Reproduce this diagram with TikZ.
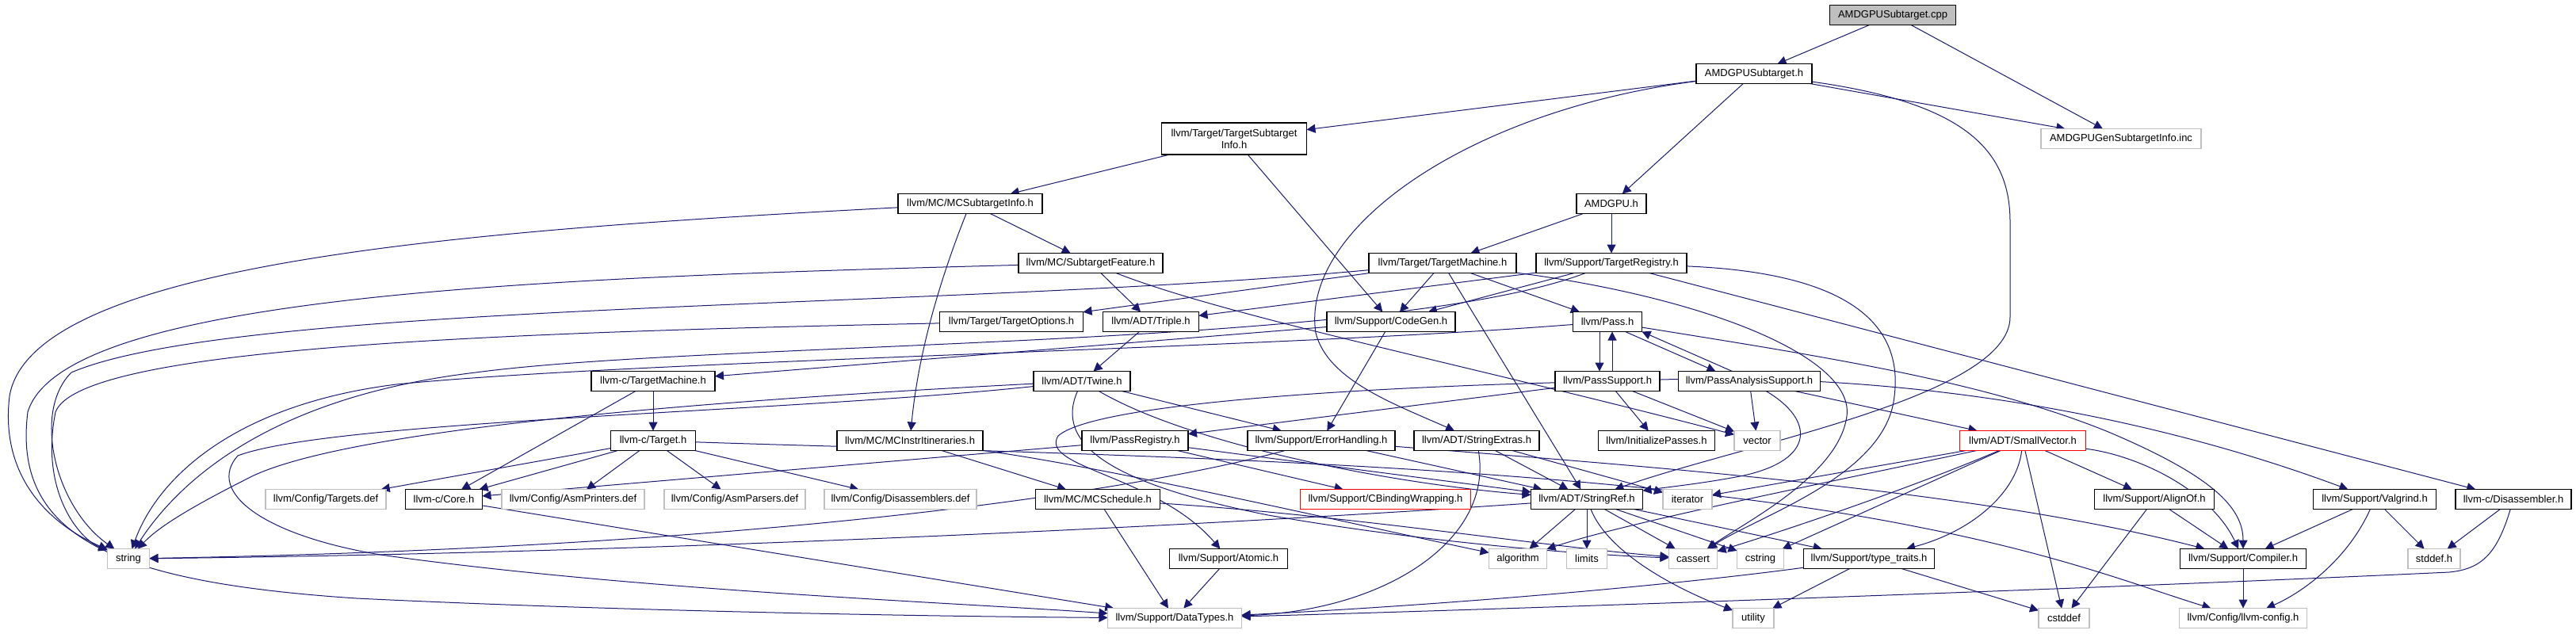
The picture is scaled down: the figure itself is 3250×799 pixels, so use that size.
\documentclass[tikz,border=0pt]{standalone}
\usepackage{fontspec}
\setmainfont{Liberation Sans}
\usetikzlibrary{arrows.meta,backgrounds}
\definecolor{edgeblue}{HTML}{191970}
\definecolor{gray75}{HTML}{BFBFBF}
\tikzset{
  nb/.style={draw=black, line width=0.65pt, fill=white, minimum height=12.5pt, inner sep=0pt, outer sep=0pt, font=\fontsize{6.5pt}{7.5pt}\selectfont, align=center},
  ext/.style={nb, draw=gray75},
  trunc/.style={nb, draw=red},
  rootnode/.style={nb, fill=gray75},
  dep/.style={draw=edgeblue, line width=0.5pt, -{Triangle[length=5.5pt,width=5.5pt]}},
}
\begin{document}
\begin{tikzpicture}[x=0.5pt,y=-0.5pt]
\useasboundingbox (0,0) rectangle (3250,799);
% row 0-2
\node[rootnode, minimum width=79.5pt] (cpp) at (2388,19) {AMDGPUSubtarget.cpp};
\node[nb, minimum width=73pt] (subh) at (2213,93) {AMDGPUSubtarget.h};
\node[ext, minimum width=101pt] (geninc) at (2676,175) {AMDGPUGenSubtargetInfo.inc};
\node[nb, minimum width=91.5pt, minimum height=20pt] (tsi) at (1557,175) {llvm/Target/TargetSubtarget\\Info.h};
% row 3
\node[nb, minimum width=91pt] (mcsti) at (1224,257) {llvm/MC/MCSubtargetInfo.h};
\node[nb, minimum width=44pt] (amdgpu) at (2033,257) {AMDGPU.h};
% row 4
\node[nb, minimum width=91pt] (subfeat) at (1376,332) {llvm/MC/SubtargetFeature.h};
\node[nb, minimum width=93pt] (tm) at (1820,332) {llvm/Target/TargetMachine.h};
\node[nb, minimum width=95pt] (treg) at (2033,332) {llvm/Support/TargetRegistry.h};
% row 5
\node[nb, minimum width=90.5pt] (topts) at (1276,406) {llvm/Target/TargetOptions.h};
\node[nb, minimum width=60.5pt] (triple) at (1452,406) {llvm/ADT/Triple.h};
\node[nb, minimum width=81pt] (codegen) at (1755,406) {llvm/Support/CodeGen.h};
\node[nb, minimum width=43.5pt] (pass) at (2028,406) {llvm/Pass.h};
% row 6
\node[nb, minimum width=78pt] (lctm) at (824,481) {llvm-c/TargetMachine.h};
\node[nb, minimum width=61pt] (twine) at (1365,481) {llvm/ADT/Twine.h};
\node[nb, minimum width=66pt] (passsup) at (2028,481) {llvm/PassSupport.h};
\node[nb, minimum width=89.5pt] (passana) at (2207,481) {llvm/PassAnalysisSupport.h};
% row 7
\node[nb, minimum width=53.5pt] (lctarget) at (824,556) {llvm-c/Target.h};
\node[nb, minimum width=92pt] (mcii) at (1148,556) {llvm/MC/MCInstrItineraries.h};
\node[nb, minimum width=67pt] (passreg) at (1432,556) {llvm/PassRegistry.h};
\node[nb, minimum width=93pt] (errh) at (1667,556) {llvm/Support/ErrorHandling.h};
\node[nb, minimum width=79pt] (strext) at (1863,556) {llvm/ADT/StringExtras.h};
\node[nb, minimum width=73.5pt] (initp) at (2090,556) {llvm/InitializePasses.h};
\node[ext, minimum width=29pt] (vector) at (2217,556) {vector};
\node[trunc, minimum width=79.5pt] (smallvec) at (2552,556) {llvm/ADT/SmallVector.h};
% row 8
\node[ext, minimum width=76pt] (targetsdef) at (411,630) {llvm/Config/Targets.def};
\node[nb, minimum width=48.5pt] (core) at (560,630) {llvm-c/Core.h};
\node[ext, minimum width=90pt] (asmprinters) at (723,630) {llvm/Config/AsmPrinters.def};
\node[ext, minimum width=89pt] (asmparsers) at (927,630) {llvm/Config/AsmParsers.def};
\node[ext, minimum width=96pt] (disasmdef) at (1136,630) {llvm/Config/Disassemblers.def};
\node[nb, minimum width=78.5pt] (mcsched) at (1385,630) {llvm/MC/MCSchedule.h};
\node[trunc, minimum width=107.5pt] (cbinding) at (1748,630) {llvm/Support/CBindingWrapping.h};
\node[nb, minimum width=70.5pt] (strref) at (2002,630) {llvm/ADT/StringRef.h};
\node[ext, minimum width=31pt] (iterator) at (2129,630) {iterator};
\node[nb, minimum width=75.5pt] (alignof) at (2718,630) {llvm/Support/AlignOf.h};
\node[nb, minimum width=77.5pt] (valgrind) at (2996,630) {llvm/Support/Valgrind.h};
\node[nb, minimum width=73pt] (lcdis) at (3171,630) {llvm-c/Disassembler.h};
% row 9
\node[ext, minimum width=26.5pt] (string) at (162,705) {string};
\node[nb, minimum width=74.5pt] (atomic) at (1550,705) {llvm/Support/Atomic.h};
\node[ext, minimum width=36.5pt] (algorithm) at (1915,705) {algorithm};
\node[ext, minimum width=25.5pt] (limits) at (2002,705) {limits};
\node[ext, minimum width=30.5pt] (cassert) at (2136,705) {cassert};
\node[ext, minimum width=29.5pt] (cstring) at (2221,705) {cstring};
\node[nb, minimum width=82.5pt] (typetraits) at (2358,705) {llvm/Support/type\_traits.h};
\node[nb, minimum width=79.5pt] (compiler) at (2830,705) {llvm/Support/Compiler.h};
\node[ext, minimum width=33pt] (stddef) at (3071,705) {stddef.h};
% row 10
\node[ext, minimum width=84.5pt] (datatypes) at (1482,780) {llvm/Support/DataTypes.h};
\node[ext, minimum width=26pt] (utility) at (2212,780) {utility};
\node[ext, minimum width=32pt] (cstddef) at (2604,780) {cstddef};
\node[ext, minimum width=80.5pt] (llvmconfig) at (2830,780) {llvm/Config/llvm-config.h};

\begin{pgfonlayer}{background}
\draw[dep] (cpp) -- (subh);
\draw[dep] (cpp) -- (geninc);
\draw[dep] (subh) -- (tsi);
\draw[dep] (subh) -- (amdgpu);
\draw[dep] (subh) -- (geninc);
\draw[dep] (subh) .. controls (1850,140) and (1640,290) .. (1660,420) .. controls (1675,480) and (1760,510) .. (strext);
\draw[dep] (subh) .. controls (2480,130) and (2536,190) .. (2536,280) -- (2536,400) .. controls (2536,500) and (2200,560) .. (strref);
\draw[dep] (tsi) -- (mcsti);
\draw[dep] (tsi) -- (codegen);
\draw[dep] (mcsti) -- (subfeat);
\draw[dep] (mcsti) .. controls (1195,330) and (1160,430) .. (mcii);
\draw[dep] (mcsti) .. controls (600,290) and (40,330) .. (12,500) .. controls (0,600) and (60,660) .. (string);
\draw[dep] (subfeat) -- (triple);
\draw[dep] (subfeat) .. controls (700,350) and (80,370) .. (35,520) .. controls (15,680) and (150,735) .. (450,755) .. controls (800,772) and (1200,778) .. (datatypes);
\draw[dep] (subfeat) .. controls (1550,400) and (1850,460) .. (vector);
\draw[dep] (amdgpu) -- (tm);
\draw[dep] (amdgpu) -- (treg);
\draw[dep] (tm) -- (topts);
\draw[dep] (tm) .. controls (1200,390) and (300,380) .. (90,470) .. controls (40,520) and (70,640) .. (string);
\draw[dep] (tm) -- (codegen);
\draw[dep] (tm) -- (pass);
\draw[dep] (tm) -- (strref);
\draw[dep] (tm) .. controls (2150,375) and (2340,450) .. (2330,525) .. controls (2320,600) and (2200,660) .. (cassert);
\draw[dep] (treg) -- (lcdis);
\draw[dep] (treg) -- (triple);
\draw[dep] (treg) -- (codegen);
\draw[dep] (treg) .. controls (2350,345) and (2400,420) .. (2390,500) .. controls (2380,600) and (2220,650) .. (cassert);
\draw[dep] (treg) .. controls (1750,440) and (900,430) .. (600,470) .. controls (350,500) and (230,600) .. (string);
\draw[dep] (topts) .. controls (600,420) and (100,440) .. (70,520) .. controls (50,620) and (100,680) .. (string);
\draw[dep] (triple) -- (twine);
\draw[dep] (codegen) -- (lctm);
\draw[dep] (codegen) -- (errh);
\draw[dep] ([xshift=-5pt]pass.south) -- ([xshift=-5pt]passsup.north);
\draw[dep] ([xshift=3pt]passsup.north) -- ([xshift=3pt]pass.south);
\draw[dep] ([xshift=-10.5pt]pass.south east) -- ([xshift=23.5pt]passana.north west);
\draw[dep] ([xshift=34pt]passana.north west) -- (pass.south east);
\draw[dep] (pass) .. controls (1600,440) and (800,455) .. (500,485) .. controls (300,510) and (200,600) .. (string);
\draw[dep] (pass) .. controls (2300,450) and (2500,480) .. (2660,545) .. controls (2790,600) and (2830,640) .. (compiler);
\draw[dep] (passsup) -- (initp);
\draw[dep] (passsup) -- (passreg);
\draw[dep] (passsup) .. controls (1700,490) and (1380,510) .. (1335,550) .. controls (1310,590) and (1460,600) .. (atomic);
\draw[dep] (passsup) .. controls (2400,470) and (2700,520) .. (valgrind);
\draw[dep] (passsup) -- (vector);
\draw[dep] (passana) -- (smallvec);
\draw[dep] (passana) .. controls (2290,530) and (2290,580) .. (2200,600) .. controls (2150,610) and (2100,615) .. (strref);
\draw[dep] (passana) -- (vector);
\draw[dep] (lctm) -- (core);
\draw[dep] (lctm) -- (lctarget);
\draw[dep] (twine) .. controls (1500,560) and (1750,610) .. (strref);
\draw[dep] (twine) .. controls (1000,520) and (420,530) .. (300,575) .. controls (260,620) and (330,675) .. (480,700) .. controls (800,745) and (1200,760) .. (datatypes);
\draw[dep] (twine) -- (errh);
\draw[dep] (twine) .. controls (1330,560) and (1400,610) .. (1600,650) .. controls (1800,685) and (2000,700) .. (cassert);
\draw[dep] (twine) .. controls (900,505) and (450,540) .. (320,600) .. controls (240,640) and (200,665) .. (string);
\draw[dep] (lctarget) -- (core);
\draw[dep] (lctarget) -- (targetsdef);
\draw[dep] (lctarget) -- (asmprinters);
\draw[dep] (lctarget) -- (asmparsers);
\draw[dep] (lctarget) -- (disasmdef);
\draw[dep] (lctarget) .. controls (1300,572) and (2000,580) .. (2420,665) .. controls (2600,700) and (2700,740) .. (llvmconfig);
\draw[dep] (mcii) -- (mcsched);
\draw[dep] (mcii) .. controls (1400,590) and (1700,660) .. (algorithm);
\draw[dep] (passreg) -- (core);
\draw[dep] (passreg) -- (strref);
\draw[dep] (passreg) -- (cbinding);
\draw[dep] (errh) -- (strref);
\draw[dep] (errh) .. controls (2100,590) and (2500,620) .. (compiler);
\draw[dep] (errh) .. controls (1450,615) and (1000,690) .. (string);
\draw[dep] (strext) -- (strref);
\draw[dep] (strext) .. controls (1885,680) and (1750,770) .. (datatypes);
\draw[dep] (strext) -- (iterator);
\draw[dep] (smallvec) -- (alignof);
\draw[dep] (smallvec) .. controls (2700,575) and (2790,620) .. (compiler);
\draw[dep] (smallvec) .. controls (2545,620) and (2490,670) .. (typetraits);
\draw[dep] (smallvec) .. controls (2300,610) and (2050,660) .. (algorithm);
\draw[dep] (smallvec) .. controls (2400,620) and (2250,670) .. (cassert);
\draw[dep] (smallvec) -- (cstddef);
\draw[dep] (smallvec) -- (cstring);
\draw[dep] (smallvec) -- (iterator);
\draw[dep] (core) -- (datatypes);
\draw[dep] (mcsched) -- (datatypes);
\draw[dep] (mcsched) .. controls (1700,650) and (1950,690) .. (cassert);
\draw[dep] (strref) -- (algorithm);
\draw[dep] (strref) -- (limits);
\draw[dep] (strref) -- (cassert);
\draw[dep] (strref) -- (cstring);
\draw[dep] (strref) -- (typetraits);
\draw[dep] (strref) .. controls (2030,700) and (2120,745) .. (utility);
\draw[dep] (strref) .. controls (1500,665) and (800,698) .. (string);
\draw[dep] (alignof) -- (compiler);
\draw[dep] (alignof) -- (cstddef);
\draw[dep] (valgrind) -- (compiler);
\draw[dep] (valgrind) .. controls (2960,710) and (2900,750) .. (llvmconfig);
\draw[dep] (valgrind) -- (stddef);
\draw[dep] (lcdis) -- (stddef);
\draw[dep] (lcdis) .. controls (3150,700) and (3130,718) .. (3090,722) .. controls (2600,745) and (1800,772) .. (datatypes);
\draw[dep] (atomic) -- (datatypes);
\draw[dep] (typetraits) .. controls (2100,740) and (1800,765) .. (datatypes);
\draw[dep] (typetraits) -- (cstddef);
\draw[dep] (typetraits) -- (utility);
\draw[dep] (compiler) -- (llvmconfig);
\end{pgfonlayer}
\end{tikzpicture}
\end{document}
